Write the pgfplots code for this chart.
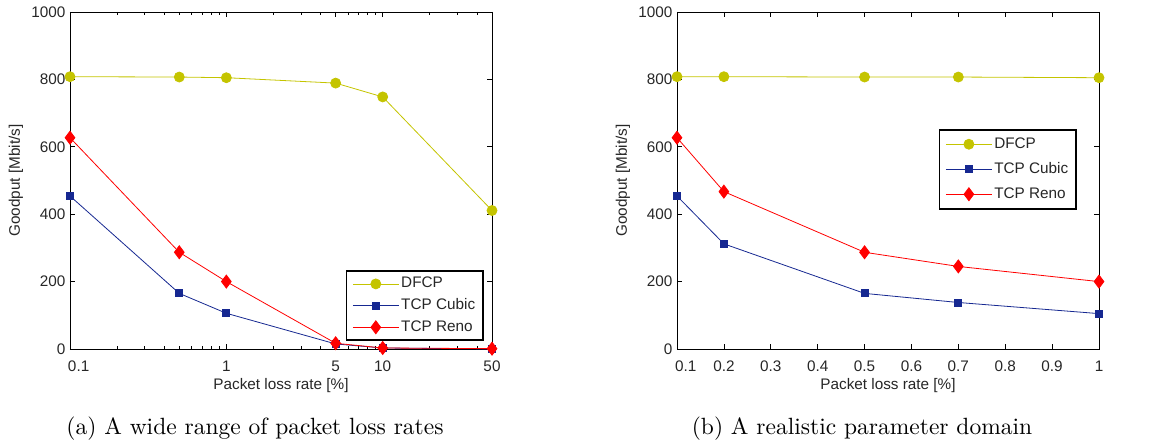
\documentclass[border=0pt]{standalone}
\usepackage{pgfplots}
\pgfplotsset{compat=1.18}
\usepackage{fontspec}
\newfontfamily\arial{Liberation Sans}
\newfontfamily\capfont{lmroman10-regular}[Extension=.otf]
\definecolor{dfcp}{RGB}{196,196,0}
\definecolor{cubic}{RGB}{22,40,145}
\definecolor{reno}{RGB}{255,0,0}
\newcommand{\firstlab}{\makebox[0pt][l]{\kern-2pt 0.1}}
\pgfplotsset{
  mystyle/.style={
    scale only axis, width=422pt, height=337pt,
    ymin=0, ymax=1000, ytick={0,200,400,600,800,1000},
    axis line style={line width=0.9pt, black},
    tick align=inside, major tick length=5pt, minor tick length=3pt,
    every tick/.style={black, line width=0.6pt},
    /pgf/number format/assume math mode=true,
    /pgf/number format/1000 sep={},
    tick label style={font=\arial\fontsize{15.3}{18}\selectfont, text=black!85},
    label style={font=\arial\fontsize{15.3}{18}\selectfont, text=black!85},
    xlabel={Packet loss rate [\%]},
    ylabel={Goodput [Mbit/s]},
    xlabel style={at={(axis description cs:0.5,0)}, anchor=center, yshift=-37pt},
    ylabel style={at={(axis description cs:-0.128,0.5)}, anchor=center},
    y tick label style={xshift=-1pt},
    x tick label style={anchor=center, yshift=-17pt},
    clip=false,
    legend cell align=left,
    legend image code/.code={\draw[mark repeat=2,mark phase=2] plot coordinates {(0pt,0pt) (23pt,0pt) (46pt,0pt)};},
    legend style={draw=black, line width=1.6pt, fill=white,
      font=\arial\fontsize{15.3}{18}\selectfont, text=black!85,
      inner xsep=6pt,
      nodes={inner sep=2pt, text height=11pt, text depth=3pt, line width=0.8pt}},
  },
  dfcpst/.style={color=dfcp, line width=0.8pt, mark=*, mark size=5pt, mark options={solid, fill=dfcp}},
  cubicst/.style={color=cubic, line width=0.8pt, mark=square*, mark size=3.5pt, mark options={solid, fill=cubic}},
  renost/.style={color=reno, line width=0.8pt, mark=diamond*, mark size=6.5pt, mark options={solid, fill=reno}},
}
\begin{document}
\begin{tikzpicture}[x=1pt,y=1pt]
\useasboundingbox (0,0) rectangle (1164,444);
\begin{semilogxaxis}[mystyle, at={(70pt,95pt)}, anchor=south west,
  xmin=0.1, xmax=50,
  xtick={0.1,1,5,10,50}, xticklabels={\firstlab,1,5,10,50},
  minor xtick={0.2,0.3,0.4,0.5,0.6,0.7,0.8,0.9,2,3,4,6,7,8,9,20,30,40},
  legend style={at={(axis description cs:0.981,0.024)}, anchor=south east, row sep=3.7pt, inner ysep=3.8pt},
]
\addplot[dfcpst] coordinates {(0.1,808) (0.5,807) (1,805) (5,789) (10,748) (50,411)};
\addplot[cubicst] coordinates {(0.1,454) (0.5,165) (1,106) (5,15) (10,3) (50,0)};
\addplot[renost] coordinates {(0.1,627) (0.5,287) (1,200) (5,17) (10,3) (50,1)};
\legend{DFCP,TCP Cubic,TCP Reno}
\end{semilogxaxis}
\begin{axis}[mystyle, at={(677pt,95pt)}, anchor=south west,
  xmin=0.1, xmax=1,
  xtick={0.1,0.2,0.3,0.4,0.5,0.6,0.7,0.8,0.9,1},
  xticklabels={\firstlab,0.2,0.3,0.4,0.5,0.6,0.7,0.8,0.9,1},
  legend style={at={(axis description cs:0.948,0.653)}, anchor=north east, row sep=7pt, inner ysep=5.5pt},
]
\addplot[dfcpst] coordinates {(0.1,808) (0.2,808) (0.5,807) (0.7,807) (1,805)};
\addplot[cubicst] coordinates {(0.1,454) (0.2,312) (0.5,165) (0.7,138) (1,105)};
\addplot[renost] coordinates {(0.1,627) (0.2,467) (0.5,287) (0.7,245) (1,200)};
\legend{DFCP,TCP Cubic,TCP Reno}
\end{axis}
\node[font=\capfont\fontsize{23.5}{28}\selectfont, anchor=base] at (255,9) {(a) A wide range of packet loss rates};
\node[font=\capfont\fontsize{23.5}{28}\selectfont, anchor=base] at (862,9) {(b) A realistic parameter domain};
\end{tikzpicture}
\end{document}
